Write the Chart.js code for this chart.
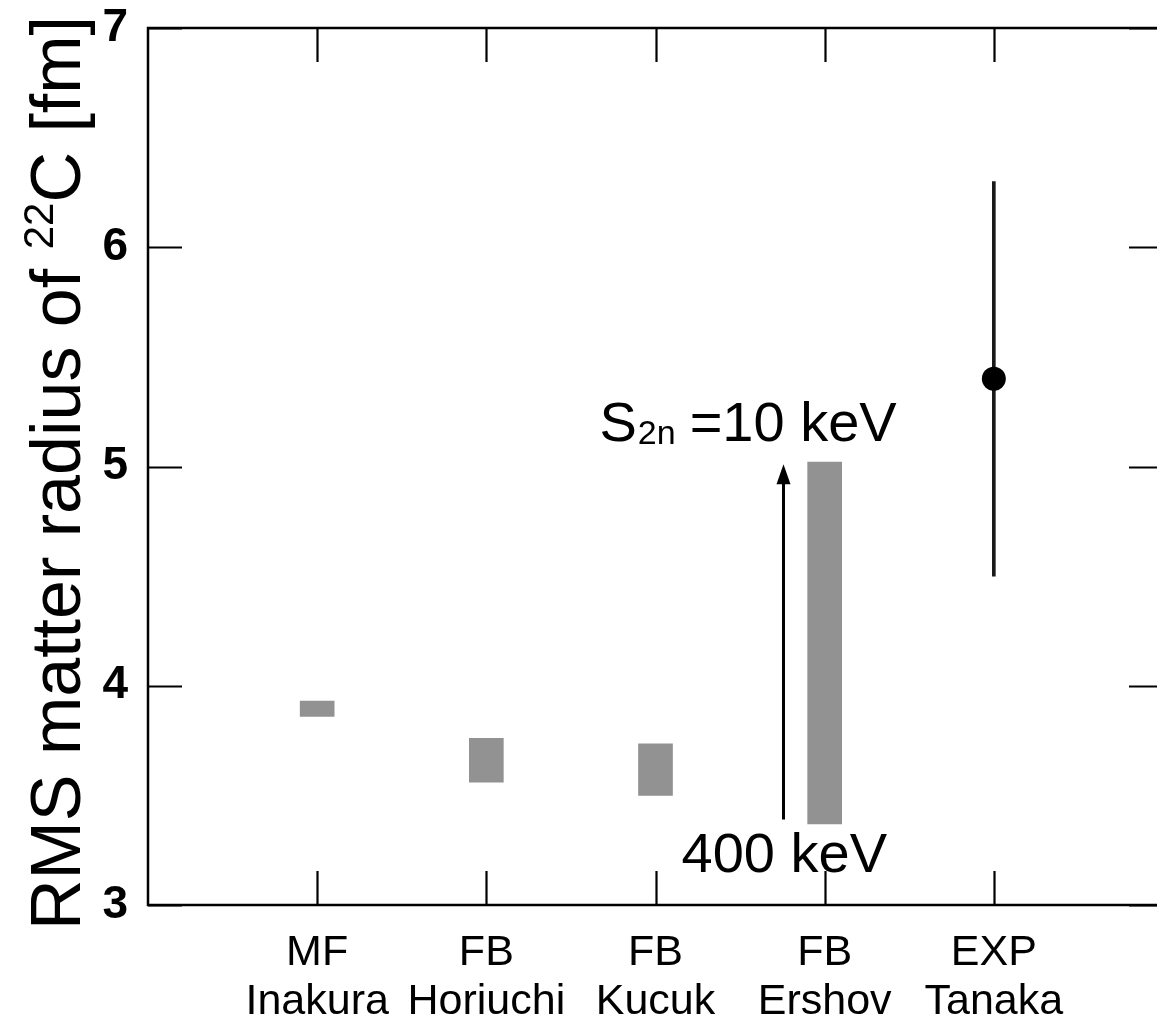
<!DOCTYPE html>
<html>
<head>
<meta charset="utf-8">
<title>RMS matter radius of 22C</title>
<script src="https://cdn.jsdelivr.net/npm/chart.js@4.4.0/dist/chart.umd.min.js"></script>
<style>
    html, body { margin: 0; padding: 0; background: #fff; overflow: hidden; }
    #wrap { width: 1175px; height: 1022px; }
</style>
</head>
<body>
<div id="wrap"><canvas id="radiusChart" width="1175" height="1022"></canvas></div>
<script>
(function() {
    // Método y autor de cada cálculo / medida
    const methods = ['MF', 'FB', 'FB', 'FB', 'EXP'];
    const authors = ['Inakura', 'Horiuchi', 'Kucuk', 'Ershov', 'Tanaka'];

    // Rangos teóricos del radio (fm)
    const rangeLow  = [3.86, 3.56, 3.50, 3.37, null];
    const rangeHigh = [3.93, 3.76, 3.735, 5.02, null];

    // Valor experimental con su barra de error (fm)
    const expValue = [null, null, null, null, 5.4];
    const expLow   = [null, null, null, null, 4.5];
    const expHigh  = [null, null, null, null, 6.3];

    const yTicks = [3, 4, 5, 6, 7];

    // Se deja un hueco vacío a cada lado del eje x
    const labels = [''].concat(methods.map((m, i) => [m, authors[i]]), ['']);
    const pad = arr => [null].concat(arr, [null]);

    const ranges = pad(rangeLow.map((lo, i) => lo === null ? null : [lo, rangeHigh[i]]));
    const errBars = pad(expLow.map((lo, i) => lo === null ? null : [lo, expHigh[i]]));

    const FONT = '"Liberation Sans", Arial, Helvetica, sans-serif';

    // Marco completo y marcas hacia dentro en los cuatro lados
    const framePlugin = {
        id: 'frame',
        afterDraw(chart) {
            const { ctx, chartArea: a, scales } = chart;
            const len = 34;
            ctx.save();
            ctx.strokeStyle = '#000';
            ctx.lineWidth = 2.5;
            ctx.strokeRect(a.left, a.top, a.right - a.left, a.bottom - a.top);
            ctx.lineWidth = 2.2;
            ctx.beginPath();
            for (let i = 1; i <= methods.length; i++) {
                const x = Math.round(scales.x.getPixelForValue(i)) + 0.5;
                ctx.moveTo(x, a.bottom); ctx.lineTo(x, a.bottom - len);
                ctx.moveTo(x, a.top); ctx.lineTo(x, a.top + len);
            }
            yTicks.forEach(v => {
                const y = Math.round(scales.y.getPixelForValue(v)) + 0.5;
                ctx.moveTo(a.left, y); ctx.lineTo(a.left + len, y);
                ctx.moveTo(a.right, y); ctx.lineTo(a.right - len, y);
            });
            ctx.stroke();
            ctx.restore();
        }
    };

    // Título del eje y con superíndice, y la flecha de S2n
    const annotationPlugin = {
        id: 'annotations',
        afterDraw(chart) {
            const { ctx, scales } = chart;
            const xs = scales.x, ys = scales.y;
            const step = xs.getPixelForValue(1) - xs.getPixelForValue(0);

            // Título vertical
            ctx.save();
            ctx.translate(80, 473);
            ctx.rotate(-Math.PI / 2);
            ctx.fillStyle = '#000';
            ctx.textBaseline = 'alphabetic';
            const parts = [
                { t: 'RMS matter radius of ', size: 70, dy: 0 },
                { t: '22', size: 42, dy: -27 },
                { t: 'C [fm]', size: 70, dy: 0 }
            ];
            let total = 0;
            parts.forEach(p => { ctx.font = p.size + 'px ' + FONT; p.w = ctx.measureText(p.t).width; total += p.w; });
            let x = -total / 2;
            parts.forEach(p => {
                ctx.font = p.size + 'px ' + FONT;
                ctx.fillText(p.t, x, p.dy);
                x += p.w;
            });
            ctx.restore();

            // Flecha entre 400 keV y 10 keV
            const ax = Math.round(xs.getPixelForValue(4) - 0.245 * step) + 0.5;
            const yBottom = ys.getPixelForValue(3.39);
            const yTip = ys.getPixelForValue(5.01);
            ctx.save();
            ctx.strokeStyle = '#000';
            ctx.fillStyle = '#000';
            ctx.lineWidth = 3;
            ctx.beginPath();
            ctx.moveTo(ax, yBottom);
            ctx.lineTo(ax, yTip + 16);
            ctx.stroke();
            ctx.beginPath();
            ctx.moveTo(ax, yTip);
            ctx.lineTo(ax - 7, yTip + 20);
            ctx.lineTo(ax + 7, yTip + 20);
            ctx.closePath();
            ctx.fill();

            // Etiquetas de energía
            ctx.textBaseline = 'alphabetic';
            ctx.font = '56px ' + FONT;
            ctx.fillText('400 keV', ax - 102, ys.getPixelForValue(3.15));
            const base = ys.getPixelForValue(5.115);
            let tx = ax - 184;
            ctx.fillText('S', tx, base);
            tx += ctx.measureText('S').width + 1;
            ctx.font = '34px ' + FONT;
            ctx.fillText('2n', tx, base + 3);
            tx += ctx.measureText('2n').width + 14;
            ctx.font = '56px ' + FONT;
            ctx.fillText('=10 keV', tx, base);
            ctx.restore();
        }
    };

    const ctx = document.getElementById('radiusChart').getContext('2d');
    new Chart(ctx, {
        type: 'bar',
        data: {
            labels: labels,
            datasets: [
                {
                    label: 'Teoría',
                    data: ranges,
                    backgroundColor: '#929292',
                    borderWidth: 0,
                    barThickness: 34,
                    grouped: false,
                    order: 3
                },
                {
                    label: 'Error EXP',
                    data: errBars,
                    backgroundColor: '#1a1a1a',
                    borderWidth: 0,
                    barThickness: 3,
                    grouped: false,
                    order: 2
                },
                {
                    type: 'line',
                    label: 'EXP',
                    data: pad(expValue),
                    showLine: false,
                    pointRadius: 12,
                    pointBackgroundColor: '#000',
                    pointBorderColor: '#000',
                    pointBorderWidth: 0,
                    order: 1
                }
            ]
        },
        options: {
            responsive: false,
            animation: false,
            layout: { padding: { top: 28, right: 8, left: 0, bottom: 0 } },
            plugins: {
                legend: { display: false },
                tooltip: { enabled: false }
            },
            scales: {
                x: {
                    offset: false,
                    grid: { display: false, drawTicks: false },
                    border: { display: false },
                    ticks: {
                        color: '#000',
                        autoSkip: false,
                        maxRotation: 0,
                        padding: 24,
                        font: { family: FONT, size: 43, lineHeight: 1.14 }
                    },
                    afterFit(scale) {
                        scale.height = 117;
                        scale.paddingLeft = 0;
                        scale.paddingRight = 0;
                    }
                },
                y: {
                    min: 3,
                    max: 7,
                    grid: { display: false, drawTicks: false },
                    border: { display: false },
                    ticks: {
                        stepSize: 1,
                        color: '#000',
                        padding: 20,
                        font: { family: FONT, size: 46, weight: 'bold' }
                    },
                    afterFit(scale) {
                        scale.width = 148;
                        scale.paddingTop = 0;
                        scale.paddingBottom = 0;
                    }
                }
            }
        },
        plugins: [framePlugin, annotationPlugin]
    });
})();
</script>
</body>
</html>
